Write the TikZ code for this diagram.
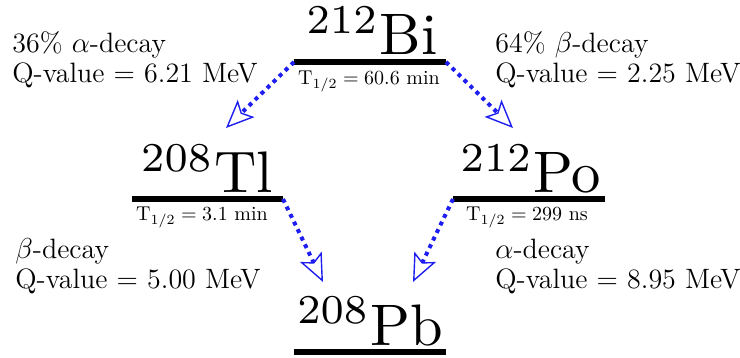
\documentclass[tikz,border=0pt]{standalone}
\usepackage{amsmath}
\usepackage{fontspec}
\usetikzlibrary{arrows.meta}
\definecolor{decayBlue}{HTML}{1E1EF0}
\newcommand{\nuclide}[2]{\scalebox{2.93}{$^{#1}$#2}}
\newcommand{\halflife}[2]{$\mathrm{T}_{1/2} = #1$ #2}

\begin{document}
\begin{tikzpicture}[
    x=0.5pt, y=-0.5pt,
    level/.style={line width=2.8pt},
    decay/.style={decayBlue, line width=2pt, dash pattern=on 2pt off 2.2pt,
      -{Stealth[open,length=14pt,width=12pt,inset=3pt,line width=0.7pt]}},
    isotope/.style={anchor=base, inner sep=0pt},
    thalf/.style={anchor=north, inner sep=0pt, font=\normalsize},
    info/.style={anchor=base west, align=left, inner sep=0pt,
      font=\fontsize{14}{15}\selectfont},
  ]
  \useasboundingbox (0,0) rectangle (740,358);

  % Level ends
  \coordinate (biL) at (294,62);  \coordinate (biR) at (446,62);
  \coordinate (tlL) at (132,199); \coordinate (tlR) at (283,199);
  \coordinate (poL) at (453,199); \coordinate (poR) at (605,199);
  \coordinate (pbL) at (294,352); \coordinate (pbR) at (446,352);

  % Energy levels
  \draw[level] (biL) -- (biR);
  \draw[level] (tlL) -- (tlR);
  \draw[level] (poL) -- (poR);
  \draw[level] (pbL) -- (pbR);

  % Nuclides
  \node[isotope] (bi) at (372,55) {\nuclide{212}{Bi}};
  \node[isotope] (tl) at (207,193) {\nuclide{208}{Tl}};
  \node[isotope] (po) at (531,193) {\nuclide{212}{Po}};
  \node[isotope] (pb) at (370,345) {\nuclide{208}{Pb}};

  % Half-lives
  \node[thalf] (biT) at (369,71) {\halflife{60.6}{min}};
  \node[thalf] (tlT) at (202,207) {\halflife{3.1}{min}};
  \node[thalf] (poT) at (527,207) {\halflife{299}{ns}};

  % Decays
  \coordinate (tlTip) at (226,128);
  \coordinate (poTip) at (513,128);
  \coordinate (pbTipL) at (323,282);
  \coordinate (pbTipR) at (413,282);
  \draw[decay] (biL) -- (tlTip);
  \draw[decay] (biR) -- (poTip);
  \draw[decay] (tlR) -- (pbTipL);
  \draw[decay] (poL) -- (pbTipR);

  % Branch info
  \node[info] (alphaBi) at (12,83) {36\% $\alpha$-decay\\Q-value = 6.21 MeV};
  \node[info] (betaBi) at (495,83) {64\% $\beta$-decay\\Q-value = 2.25 MeV};
  \node[info] (betaTl) at (15,288) {$\beta$-decay\\Q-value = 5.00 MeV};
  \node[info] (alphaPo) at (495,288) {$\alpha$-decay\\Q-value = 8.95 MeV};
\end{tikzpicture}
\end{document}
